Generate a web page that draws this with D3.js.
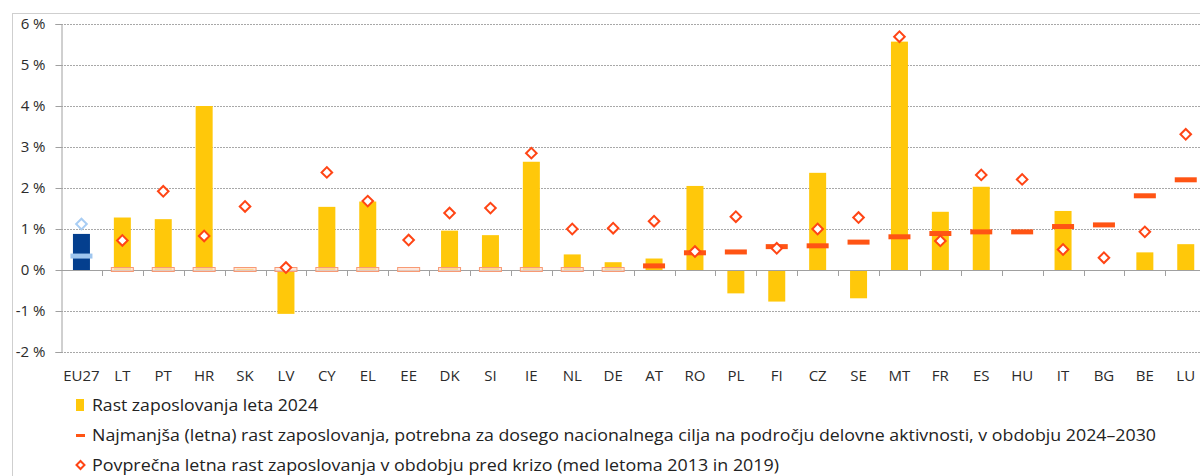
<!DOCTYPE html>
<html>
<head>
<meta charset="utf-8">
<script src="https://cdn.jsdelivr.net/npm/d3@7"></script>
<style>
  body { margin: 0; background: #fff; }
  svg { display: block; font-family: "Open Sans", sans-serif; }
</style>
</head>
<body>
<div id="chart"></div>
<script>
/* DATA */
const countries = ["EU27", "LT", "PT", "HR", "SK", "LV", "CY", "EL", "EE", "DK", "SI", "IE", "NL", "DE",
  "AT", "RO", "PL", "FI", "CZ", "SE", "MT", "FR", "ES", "HU", "IT", "BG", "BE", "LU"];
// Rast zaposlovanja leta 2024
const growth2024 = [0.88, 1.28, 1.24, 4.0, 0.03, -1.07, 1.54, 1.67, 0.0, 0.96, 0.85, 2.64, 0.38, 0.19,
  0.28, 2.05, -0.57, -0.77, 2.37, -0.69, 5.57, 1.42, 2.03, -0.02, 1.44, -0.01, 0.43, 0.63];
// Najmanjsa letna rast za dosego cilja 2024-2030
const requiredGrowth = [0.34, 0, 0, 0, 0, 0, 0, 0, 0, 0, 0, 0, 0, 0,
  0.10, 0.42, 0.44, 0.57, 0.59, 0.68, 0.81, 0.89, 0.93, 0.93, 1.06, 1.10, 1.81, 2.20];
// Povprecna letna rast 2013-2019
const preCrisis = [1.12, 0.72, 1.92, 0.83, 1.55, 0.06, 2.38, 1.68, 0.73, 1.39, 1.51, 2.85, 1.00, 1.02,
  1.19, 0.45, 1.30, 0.53, 1.00, 1.28, 5.69, 0.71, 2.32, 2.21, 0.50, 0.30, 0.93, 3.31];
const yTicks = [-2, -1, 0, 1, 2, 3, 4, 5, 6];
const legendLabels = [
  "Rast zaposlovanja leta 2024",
  "Najmanjša (letna) rast zaposlovanja, potrebna za dosego nacionalnega cilja na področju delovne aktivnosti, v obdobju 2024–2030",
  "Povprečna letna rast zaposlovanja v obdobju pred krizo (med letoma 2013 in 2019)"
];

/* CONSTANTS */
const width = 1200, height = 476;
const left = 61, step = 40.9;
const yellow = "#ffc80a", navy = "#043f8e", orange = "#ff5414", lightBlue = "#9fc6ef";

const svg = d3.select("#chart").append("svg")
  .attr("width", width)
  .attr("height", height);

// outer frame
svg.append("rect")
  .attr("x", 12.5).attr("y", 13.5)
  .attr("width", 1220).attr("height", 500)
  .attr("fill", "none").attr("stroke", "#cfcfcf");

/* SCALES */
const x = d3.scaleBand()
  .domain(countries)
  .range([left, left + step * countries.length]);

const y = d3.scaleLinear()
  .domain([-2, 6])
  .range([352, 24]);

/* GRID */
svg.append("g")
  .selectAll("line")
  .data(yTicks.filter(d => d !== 0))
  .join("line")
  .attr("x1", left).attr("x2", width)
  .attr("y1", d => Math.round(y(d)) + 0.5).attr("y2", d => Math.round(y(d)) + 0.5)
  .attr("stroke", "#a8a8a8")
  .attr("stroke-dasharray", "2,1");

/* Y AXIS */
const yAxis = d3.axisLeft(y)
  .tickValues(yTicks)
  .tickSize(6)
  .tickPadding(10)
  .tickFormat(d => d + " %");

svg.append("g")
  .attr("transform", `translate(${left + 0.5},0)`)
  .call(yAxis)
  .call(g => g.selectAll("line, path").attr("stroke", "#a0a0a0"))
  .call(g => g.selectAll("text")
    .attr("font-family", "Open Sans")
    .attr("font-size", 15)
    .attr("fill", "#2b2b2b"));

/* BARS */
const barW = 17;
svg.append("g")
  .selectAll("rect")
  .data(countries)
  .join("rect")
  .attr("x", d => x(d) + x.bandwidth() / 2 - barW / 2)
  .attr("y", (d, i) => y(Math.max(0, growth2024[i])))
  .attr("width", barW)
  .attr("height", (d, i) => Math.abs(y(growth2024[i]) - y(0)))
  .attr("fill", (d, i) => i === 0 ? navy : yellow);

/* X AXIS (zero line with ticks at band edges) */
const xAxis = d3.axisBottom(x)
  .tickSize(0)
  .tickPadding(0)
  .tickFormat("");
svg.append("g")
  .attr("transform", `translate(0,${Math.round(y(0)) + 0.5})`)
  .call(xAxis)
  .call(g => g.select(".domain").attr("stroke", "#a0a0a0").attr("d", `M${left},0H${width}`));

svg.append("g")
  .selectAll("line")
  .data(countries.slice(1))
  .join("line")
  .attr("x1", d => Math.round(x(d)) + 0.5).attr("x2", d => Math.round(x(d)) + 0.5)
  .attr("y1", y(0)).attr("y2", y(0) + 6)
  .attr("stroke", "#a0a0a0");

// category labels
svg.append("g")
  .selectAll("text")
  .data(countries)
  .join("text")
  .attr("x", d => x(d) + x.bandwidth() / 2)
  .attr("y", 381)
  .attr("text-anchor", "middle")
  .attr("font-size", 15)
  .attr("fill", "#2b2b2b")
  .text(d => d);

/* REQUIRED GROWTH DASHES */
const dashW = 22;
svg.append("g")
  .selectAll("rect")
  .data(countries)
  .join("rect")
  .attr("x", d => x(d) + x.bandwidth() / 2 - dashW / 2)
  .attr("y", (d, i) => y(requiredGrowth[i]) - 2.5)
  .attr("width", dashW)
  .attr("height", (d, i) => i > 0 && requiredGrowth[i] === 0 ? 4 : 5)
  .attr("fill", (d, i) => i === 0 ? lightBlue : (requiredGrowth[i] === 0 ? "#fcdccd" : orange))
  .attr("fill-opacity", (d, i) => requiredGrowth[i] === 0 && i > 0 ? 0.7 : 1)
  .attr("stroke", (d, i) => i > 0 && requiredGrowth[i] === 0 ? "#f89a74" : "none")
  .attr("stroke-width", 1);

/* PRE-CRISIS DIAMONDS */
const diamond = d3.symbol(d3.symbolSquare, 56);
svg.append("g")
  .selectAll("path")
  .data(countries)
  .join("path")
  .attr("d", diamond)
  .attr("transform", (d, i) => `translate(${x(d) + x.bandwidth() / 2},${y(preCrisis[i])}) rotate(45)`)
  .attr("fill", "#fff")
  .attr("stroke", (d, i) => i === 0 ? "#a8cdf4" : "#ff4515")
  .attr("stroke-width", 2);

/* LEGEND */
const legend = svg.append("g");
const legendY = [411, 441, 471];
const legendEnd = [318, 1156, 779];

legend.append("rect")
  .attr("x", 76).attr("y", 399)
  .attr("width", 8).attr("height", 12)
  .attr("fill", yellow);
legend.append("rect")
  .attr("x", 76).attr("y", 434)
  .attr("width", 9).attr("height", 3)
  .attr("fill", orange);
legend.append("path")
  .attr("d", d3.symbol(d3.symbolSquare, 32))
  .attr("transform", "translate(80.5,465) rotate(45)")
  .attr("fill", "#fff")
  .attr("stroke", "#ff4515")
  .attr("stroke-width", 2);

legend.selectAll("text")
  .data(legendLabels)
  .join("text")
  .attr("x", 92)
  .attr("y", (d, i) => legendY[i])
  .attr("font-size", 17)
  .attr("fill", "#222")
  .attr("textLength", (d, i) => legendEnd[i] - 92)
  .attr("lengthAdjust", "spacingAndGlyphs")
  .text(d => d);
</script>
</body>
</html>
